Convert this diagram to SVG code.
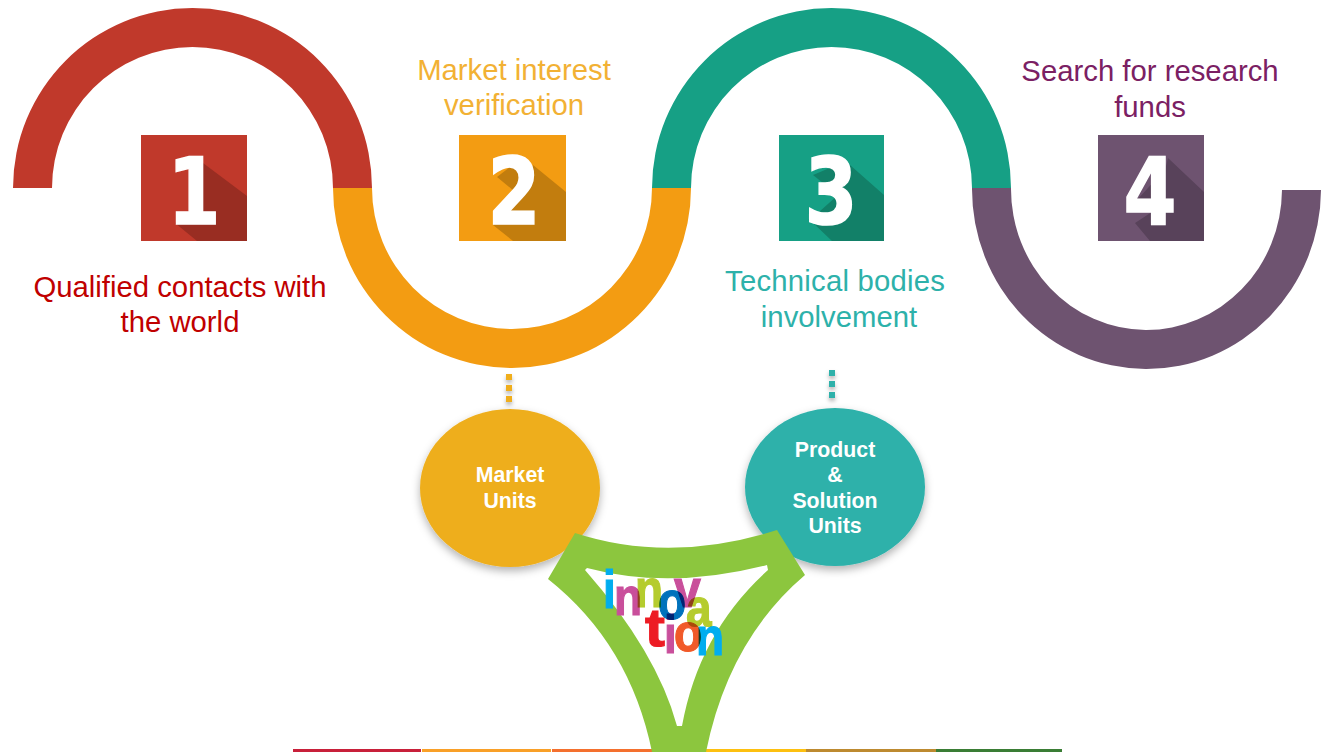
<svg xmlns="http://www.w3.org/2000/svg" width="1321" height="752" viewBox="0 0 1321 752">
<style>
.lbl{font-family:"Liberation Sans",Arial,sans-serif;font-size:29.3px;text-anchor:middle}
.nd{font-family:"Liberation Sans",Arial,sans-serif;font-size:21.3px;font-weight:bold;fill:#fff;text-anchor:middle}
.dg{font-family:"DejaVu Sans",sans-serif;font-size:93px;font-weight:bold;fill:#fff;stroke:#fff;stroke-width:1.5px;text-anchor:middle}
.ln{font-family:"Liberation Sans",Arial,sans-serif;font-size:46px;font-weight:bold;stroke-width:1px;mix-blend-mode:multiply}
</style>
<defs>
<filter id="sh" x="-20%" y="-20%" width="140%" height="145%"><feDropShadow dx="0" dy="4" stdDeviation="4" flood-color="#000" flood-opacity=".3"/></filter>
<filter id="shd" x="-150%" y="-150%" width="400%" height="400%"><feDropShadow dx="0" dy="3" stdDeviation="2" flood-color="#000" flood-opacity=".3"/></filter>
</defs>
<rect width="1321" height="752" fill="#fff"/>
<g id="connectors">
<g filter="url(#shd)" fill="#f0ae1e"><rect x="506" y="374" width="6" height="6"/><rect x="506" y="385" width="6" height="6"/><rect x="506" y="396" width="6" height="6"/></g>
<g filter="url(#shd)" fill="#2db1aa"><rect x="829" y="370" width="6" height="6"/><rect x="829" y="381" width="6" height="6"/><rect x="829" y="392" width="6" height="6"/></g>
</g>
<g id="arc-1"><path d="M13 188A179.500 180 0 0 1 372 188H333A140.500 141 0 0 0 52 188Z" fill="#c0392b"/></g>
<g id="arc-2"><path d="M333 188H372A140 141 0 0 0 652 188H691A179 180 0 0 1 333 188Z" fill="#f39c12"/></g>
<g id="arc-3"><path d="M652 188A179.500 180 0 0 1 1011 188H972A140.500 141 0 0 0 691 188Z" fill="#16a085"/></g>
<g id="arc-4"><path d="M972 188H1011A135.500 141 0 0 0 1282 190H1321A174.500 180 0 0 1 972 188Z" fill="#6e5370"/></g>
<g id="step-1"><rect x="141" y="135" width="106" height="106" fill="#c0392b"/><path d="M203 163L247 196V241H197L175 223L203 212Z" fill="#992d22"/><text class="dg" transform="translate(194 223.500) scale(.82 1)">1</text></g>
<g id="step-2"><rect x="459" y="135" width="107" height="106" fill="#f39c12"/><path d="M533 165L566 192V241H513L493 225L520 195ZM497 177L510 167L535 176L525 200Z" fill="#c27d0e"/><text class="dg" transform="translate(514 223.500) scale(.82 1)">2</text></g>
<g id="step-3"><rect x="779" y="135" width="105" height="106" fill="#16a085"/><path d="M850 165L884 195V241H832L810 220L838 195ZM813 175L832 167L850 172L838 195Z" fill="#128068"/><text class="dg" transform="translate(831 223.500) scale(.82 1)">3</text></g>
<g id="step-4"><rect x="1098" y="135" width="106" height="106" fill="#6e5370"/><path d="M1168 158L1204 192V241H1150L1135 223L1155 210ZM1137 200L1158 177V205Z" fill="#58425a"/><text class="dg" transform="translate(1150 223.500) scale(.82 1)">4</text></g>
<g id="label-1"><text class="lbl" fill="#c00000" x="180" y="297">Qualified contacts with</text><text class="lbl" fill="#c00000" x="180" y="332">the world</text></g>
<g id="label-2"><text class="lbl" fill="#f2b134" x="514" y="80">Market interest</text><text class="lbl" fill="#f2b134" x="514" y="115">verification</text></g>
<g id="label-3"><text class="lbl" fill="#2db1aa" x="835" y="291" textLength="220">Technical bodies</text><text class="lbl" fill="#2db1aa" x="839" y="327">involvement</text></g>
<g id="label-4"><text class="lbl" fill="#7b2063" x="1150" y="81">Search for research</text><text class="lbl" fill="#7b2063" x="1150" y="117">funds</text></g>
<g id="market-units"><ellipse cx="510" cy="488" rx="90" ry="79" fill="#eeae1c" filter="url(#sh)"/><text class="nd" x="510" y="482">Market</text><text class="nd" x="510" y="508">Units</text></g>
<g id="product-units"><ellipse cx="835" cy="487" rx="90" ry="79" fill="#2db1aa" filter="url(#sh)"/><text class="nd" x="835" y="457">Product</text><text class="nd" x="835" y="482">&amp;</text><text class="nd" x="835" y="508">Solution</text><text class="nd" x="835" y="533">Units</text></g>
<g id="strip">
<rect x="293" y="749" width="128" height="3" fill="#c8203a"/><rect x="422" y="749" width="129" height="3" fill="#f9a028"/><rect x="552" y="749" width="154" height="3" fill="#f4702e"/><rect x="706" y="749" width="100" height="3" fill="#fdc010"/><rect x="806" y="749" width="130" height="3" fill="#bd8a30"/><rect x="936" y="749" width="126" height="3" fill="#3a7d35"/>
</g>
<g id="innovation">
<path fill-rule="evenodd" fill="#8cc63e" d="M575 533Q670 564 777 530L805 575Q728.500 640 706 752H652Q630 644 548 579ZM585 570Q657 652 677 726H682Q699 632 768 570L767 565Q670 590 587 568Z"/>
<g style="isolation:isolate">
<text class="ln" fill="#00adef" stroke="#00adef" transform="translate(603 608) scale(1 1.15)">i</text>
<text class="ln" fill="#c94f9b" stroke="#c94f9b" transform="translate(614 615) scale(1 1.15)">n</text>
<text class="ln" fill="#b5cc2e" stroke="#b5cc2e" transform="translate(635 607) scale(1 1.15)">n</text>
<text class="ln" fill="#c94f9b" stroke="#c94f9b" transform="translate(674 607) scale(1.05 1.15)">v</text>
<text class="ln" fill="#0072bc" stroke="#0072bc" transform="translate(658 619) scale(1 1.15)">o</text>
<text class="ln" fill="#b5cc2e" stroke="#b5cc2e" transform="translate(686 626) scale(1 1.15)">a</text>
<text class="ln" fill="#ed1c24" stroke="#ed1c24" transform="translate(645 646) scale(1.3 1.15)">t</text>
<text class="ln" fill="#c94f9b" stroke="#c94f9b" transform="translate(664 653) scale(1 1.15)">i</text>
<text class="ln" fill="#f15a29" stroke="#f15a29" transform="translate(674 651) scale(1 1.15)">o</text>
<text class="ln" fill="#00adef" stroke="#00adef" transform="translate(696 655) scale(1 1.15)">n</text>
</g>
</g>
</svg>
